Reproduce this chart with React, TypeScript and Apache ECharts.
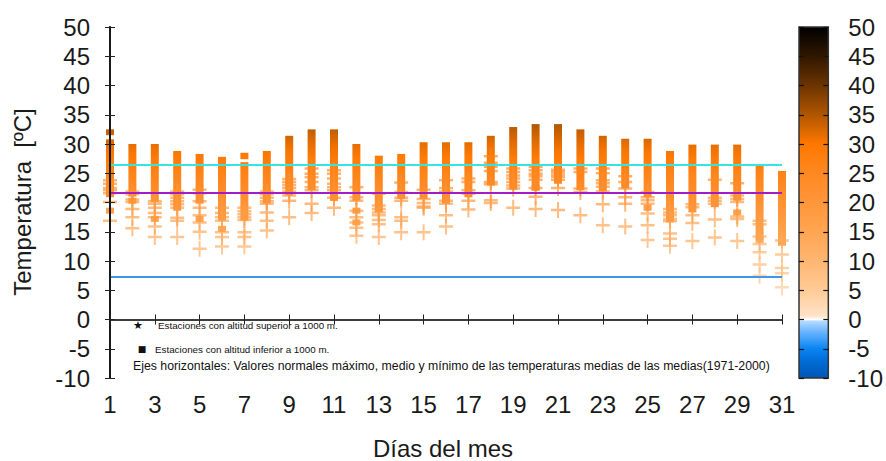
import React, { useEffect, useRef } from 'react';
import * as echarts from 'echarts';

// ---- data ----
const DAYS = [1, 2, 3, 4, 5, 6, 7, 8, 9, 10, 11, 12, 13, 14, 15, 16, 17, 18, 19, 20, 21, 22, 23, 24, 25, 26, 27, 28, 29, 30, 31];
const BAR_HIGH = [30.8, 30.0, 30.0, 28.8, 28.3, 27.8, 26.9, 28.8, 31.4, 32.5, 32.5, 30.0, 28.0, 28.3, 30.3, 30.3, 30.3, 31.4, 32.9, 33.4, 33.4, 32.5, 31.4, 30.9, 30.9, 28.8, 29.9, 29.9, 29.9, 26.3, 25.4];
const BAR_LOW = [20.9, 21.0, 20.1, 18.6, 19.8, 16.9, 16.9, 19.8, 21.2, 22.1, 20.3, 20.3, 18.3, 20.6, 20.6, 19.8, 20.9, 22.9, 22.2, 22.1, 23.2, 22.1, 21.9, 22.4, 20.9, 16.6, 18.3, 19.2, 20.3, 13.5, 12.6];
const EXTRA_BARS: [number, number, number][] = [[1, 31.5, 32.5], [7, 27.4, 28.5]];
const CROSSES: number[][] = [
  [23.8, 23.2, 22.5, 22.1, 21.6, 20.1, 16.9],
  [21.9, 21.4, 20.5, 20.1, 18.9, 17.5, 15.6],
  [20.2, 19.8, 19.1, 18.2, 17.5, 15.9, 14.1],
  [21.9, 21.4, 20.8, 20.2, 19.7, 19.1, 17.4, 16.9, 14.1],
  [22.2, 21.6, 20.2, 19.1, 17.8, 16.6, 15.0, 12.1],
  [19.1, 18.2, 17.5, 16.9, 14.9, 14.1, 12.5],
  [19.1, 18.5, 18.0, 17.5, 17.0, 14.9, 14.1, 12.5],
  [21.9, 21.4, 20.8, 20.2, 19.8, 18.3, 16.9, 15.2],
  [24.0, 23.5, 23.0, 22.5, 21.9, 21.2, 20.3, 17.5],
  [25.8, 24.9, 24.3, 23.5, 22.6, 22.1, 19.8, 18.2],
  [25.5, 24.9, 24.1, 23.2, 22.6, 22.1, 20.8, 19.1],
  [22.6, 20.9, 20.3, 18.6, 17.5, 16.6, 15.7, 14.3],
  [21.5, 19.5, 18.9, 18.3, 17.8, 17.0, 16.3, 14.1],
  [23.4, 21.8, 20.8, 20.3, 17.5, 16.9, 14.9],
  [22.2, 20.6, 19.9, 19.3, 19.1, 14.9],
  [23.8, 22.5, 21.9, 20.3, 19.8, 17.8, 15.9],
  [24.1, 23.5, 22.1, 21.5, 20.3, 18.8],
  [27.9, 26.8, 26.1, 25.4, 23.5, 23.1, 20.4, 19.9],
  [25.8, 25.2, 24.6, 24.1, 23.5, 22.9, 22.4, 19.1],
  [26.1, 25.5, 24.9, 24.5, 23.9, 22.5, 21.0, 18.9],
  [25.6, 25.2, 24.8, 24.4, 23.9, 22.5, 18.7],
  [25.8, 25.2, 22.4, 21.8, 17.8],
  [25.8, 25.0, 23.8, 23.3, 22.7, 21.9, 19.7, 16.1],
  [24.5, 23.5, 22.4, 20.9, 19.8, 15.9],
  [21.8, 20.9, 20.4, 19.8, 18.1, 16.1, 13.6],
  [18.9, 18.3, 17.8, 17.2, 16.8, 14.7, 13.8, 12.6],
  [19.7, 19.2, 17.8, 16.5, 13.4],
  [23.9, 20.8, 20.3, 19.8, 17.1, 14.0],
  [23.3, 21.2, 20.6, 20.1, 17.6, 17.2, 13.4],
  [16.9, 16.3, 14.2, 12.9, 11.5, 9.4, 7.5],
  [13.5, 11.1, 8.8, 7.9, 5.5],
];
const SQUARES: [number, number][] = [[1, 18.6], [2, 20.3], [3, 17.2], [5, 17.2], [6, 15.5], [11, 20.8], [12, 18.6], [12, 16.6], [20, 22.5], [25, 19.1], [29, 18.3], [30, 13.6]];
const NORMAL_MAX = 26.5;
const NORMAL_MEAN = 21.6;
const NORMAL_MIN = 7.3;
const Y_MIN = -10;
const Y_MAX = 50;
const Y_STEP = 5;

// colour scale of the colour bar
const CMAP: [number, string][] = [
  [-10, '#0056b4'], [-7, '#006ed8'], [-5, '#0a84f2'], [-2, '#6cb6ff'], [-0.3, '#b6dbff'],
  [0, '#ffffff'], [0.6, '#ffe2c8'], [5, '#ffcb96'], [10, '#ffb672'], [15, '#ffa552'],
  [20, '#ff963a'], [25, '#ff8822'], [30, '#ff7800'], [35, '#b05600'], [40, '#6c3400'],
  [45, '#301700'], [50, '#000000'],
];

function hexRgb(h: string) {
  return [parseInt(h.slice(1, 3), 16), parseInt(h.slice(3, 5), 16), parseInt(h.slice(5, 7), 16)];
}
function cmap(v: number): string {
  if (v <= CMAP[0][0]) return CMAP[0][1];
  for (let i = 1; i < CMAP.length; i++) {
    if (v <= CMAP[i][0]) {
      const [v0, c0] = CMAP[i - 1];
      const [v1, c1] = CMAP[i];
      const t = (v - v0) / (v1 - v0);
      const a = hexRgb(c0), b = hexRgb(c1);
      const r = a.map((x, k) => Math.round(x + (b[k] - x) * t));
      return `rgb(${r[0]},${r[1]},${r[2]})`;
    }
  }
  return CMAP[CMAP.length - 1][1];
}

const FONT = 'Liberation Sans, Arial, sans-serif';

function buildOption() {
  const barData: number[][] = DAYS.map((d, i) => [d - 1, BAR_LOW[i], BAR_HIGH[i]]);
  EXTRA_BARS.forEach(([d, lo, hi]) => barData.push([d - 1, lo, hi]));
  const crossData: number[][] = [];
  CROSSES.forEach((arr, i) => arr.forEach((v) => crossData.push([DAYS[i] - 1, v])));
  const squareData = SQUARES.map(([d, v]) => [d - 1, v]);

  const tickStyle = { show: true, inside: true, length: 5, lineStyle: { color: '#222', width: 1 } };
  const labelStyle = { fontSize: 24, color: '#1a1a1a', fontFamily: FONT };

  const cbStops = CMAP.slice().reverse().map(([v, c]) => ({ offset: (Y_MAX - v) / (Y_MAX - Y_MIN), color: c }));

  return {
    animation: false,
    backgroundColor: '#ffffff',
    grid: [
      { left: 110, right: 104, top: 27, bottom: 83, show: false },
      { left: 799, width: 34, top: 27, bottom: 83, show: false },
    ],
    xAxis: [
      {
        type: 'value', gridIndex: 0, min: 0, max: 30, interval: 2, position: 'bottom', z: 10,
        axisLine: { show: true, lineStyle: { color: '#222', width: 1.5 } },
        axisTick: tickStyle, splitLine: { show: false },
        axisLabel: { ...labelStyle, margin: 14, formatter: (v: number) => String(v + 1) },
      },
      {
        type: 'value', gridIndex: 0, min: 0, max: 30, interval: 2, position: 'top', z: 10,
        axisLine: { show: true, lineStyle: { color: '#333', width: 1.5 } },
        axisTick: tickStyle, splitLine: { show: false }, axisLabel: { show: false },
      },
      { type: 'value', gridIndex: 1, min: 0, max: 1, show: false },
    ],
    yAxis: [
      {
        type: 'value', gridIndex: 0, min: Y_MIN, max: Y_MAX, interval: Y_STEP, position: 'left', z: 10,
        axisLine: { show: true, lineStyle: { color: '#000', width: 2 } },
        axisTick: tickStyle, splitLine: { show: false },
        axisLabel: { ...labelStyle, margin: 20 },
      },
      {
        type: 'value', gridIndex: 0, min: Y_MIN, max: Y_MAX, interval: Y_STEP, position: 'right', z: 10,
        axisLine: { show: true, lineStyle: { color: '#222', width: 1.5 } },
        axisTick: tickStyle, splitLine: { show: false }, axisLabel: { show: false },
      },
      {
        type: 'value', gridIndex: 1, min: Y_MIN, max: Y_MAX, interval: Y_STEP, position: 'left', z: 10,
        axisLine: { show: false }, axisTick: { ...tickStyle, lineStyle: { color: '#111', width: 1.2 } }, splitLine: { show: false }, axisLabel: { show: false },
      },
      {
        type: 'value', gridIndex: 1, min: Y_MIN, max: Y_MAX, interval: Y_STEP, position: 'right', z: 10,
        axisLine: { show: false }, axisTick: { ...tickStyle, lineStyle: { color: '#111', width: 1.2 } }, splitLine: { show: false },
        axisLabel: { ...labelStyle, margin: 20 },
      },
    ],
    series: [
      {
        type: 'custom', xAxisIndex: 0, yAxisIndex: 0, z: 2,
        data: barData,
        renderItem: (_p: any, api: any) => {
          const x = api.value(0), lo = api.value(1), hi = api.value(2);
          const top = api.coord([x, hi]);
          const bot = api.coord([x, lo]);
          const stops = [0, 0.25, 0.5, 0.75, 1].map((t) => ({ offset: t, color: cmap(hi - t * (hi - lo) + 1.5) }));
          const w = 8;
          return {
            type: 'rect',
            shape: { x: top[0] - w / 2, y: top[1], width: w, height: bot[1] - top[1] },
            style: { fill: new echarts.graphic.LinearGradient(0, 0, 0, 1, stops) },
          };
        },
      },
      {
        type: 'scatter', xAxisIndex: 0, yAxisIndex: 0, z: 3,
        data: crossData,
        symbol: 'path://M0,6.75h14v2.5h-14z M6,0h2v16h-2z',
        symbolSize: [14, 16],
        itemStyle: { color: (p: any) => cmap(p.value[1]), opacity: 0.66 },
      },
      {
        type: 'scatter', xAxisIndex: 0, yAxisIndex: 0, z: 4,
        data: squareData,
        symbol: 'rect',
        symbolSize: [8, 6],
        itemStyle: { color: (p: any) => cmap(p.value[1] + 1.5), opacity: 0.9 },
      },
      {
        type: 'line', xAxisIndex: 0, yAxisIndex: 0, z: 6, data: [],
        markLine: {
          silent: true, symbol: ['none', 'none'], label: { show: false },
          data: [
            { yAxis: NORMAL_MAX, lineStyle: { color: '#36e4e4', width: 2, type: 'solid' } },
            { yAxis: NORMAL_MEAN, lineStyle: { color: '#a21cc8', width: 2, type: 'solid' } },
            { yAxis: NORMAL_MIN, lineStyle: { color: '#3d97f2', width: 2, type: 'solid' } },
          ],
        },
      },
      {
        type: 'custom', xAxisIndex: 2, yAxisIndex: 2, z: 2,
        data: [[0, Y_MIN, Y_MAX]],
        renderItem: (_p: any, api: any) => {
          const tl = api.coord([0, api.value(2)]);
          const br = api.coord([1, api.value(1)]);
          return {
            type: 'rect',
            shape: { x: tl[0], y: tl[1], width: br[0] - tl[0], height: br[1] - tl[1] },
            style: { fill: new echarts.graphic.LinearGradient(0, 0, 0, 1, cbStops), stroke: '#333', lineWidth: 1.5 },
          };
        },
      },
    ],
    graphic: [
      { type: 'text', x: 22, y: 202, rotation: Math.PI / 2, style: { text: 'Temperatura \u00a0[ºC]', fontSize: 24, fontFamily: FONT, fill: '#1a1a1a', align: 'center', verticalAlign: 'middle' } },
      { type: 'text', x: 443, y: 448, style: { text: 'Días del mes', fontSize: 24, fontFamily: FONT, fill: '#1a1a1a', align: 'center', verticalAlign: 'middle' } },
      { type: 'text', x: 138, y: 325, style: { text: '★', fontSize: 11, fontFamily: 'DejaVu Sans', fill: '#111', align: 'center', verticalAlign: 'middle' } },
      { type: 'text', x: 158, y: 325, style: { text: 'Estaciones con altitud superior a 1000 m.', fontSize: 9.8, fontFamily: FONT, fill: '#111', align: 'left', verticalAlign: 'middle' } },
      { type: 'text', x: 142, y: 349, style: { text: '■', fontSize: 9, fontFamily: 'DejaVu Sans', fill: '#111', align: 'center', verticalAlign: 'middle' } },
      { type: 'text', x: 155, y: 349, style: { text: 'Estaciones con altitud inferior a 1000 m.', fontSize: 9.8, fontFamily: FONT, fill: '#111', align: 'left', verticalAlign: 'middle' } },
      { type: 'text', x: 133, y: 366, style: { text: 'Ejes horizontales: Valores normales máximo, medio y mínimo de las temperaturas medias de las medias(1971-2000)', fontSize: 12.3, fontFamily: FONT, fill: '#111', align: 'left', verticalAlign: 'middle' } },
    ],
  };
}

export default function App() {
  const ref = useRef<HTMLDivElement>(null);
  useEffect(() => {
    const chart = echarts.init(ref.current!, null, { renderer: 'svg' });
    chart.setOption(buildOption() as any);
    return () => chart.dispose();
  }, []);
  return <div ref={ref} style={{ position: 'absolute', left: 0, top: 0, width: 886, height: 461, background: '#fff' }} />;
}
